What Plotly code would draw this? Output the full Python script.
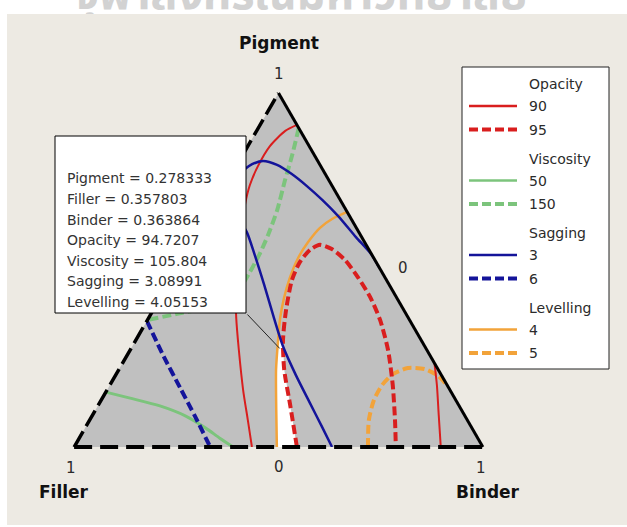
import math
import plotly.graph_objects as go

W, H = 627, 527

# ---- mixture contour data: pigment and binder fractions (filler = 1 - pigment - binder)
OPACITY_90_LEFT_PIGMENT = [0.910, 0.893, 0.850, 0.794, 0.740, 0.684, 0.599, 0.514, 0.429, 0.367, 0.274, 0.161, 0.076, 0.0]
OPACITY_90_LEFT_BINDER = [0.090, 0.070, 0.054, 0.053, 0.060, 0.076, 0.109, 0.144, 0.181, 0.213, 0.266, 0.333, 0.387, 0.435]
OPACITY_90_RIGHT_PIGMENT = [0.237, 0.175, 0.090, 0.0]
OPACITY_90_RIGHT_BINDER = [0.763, 0.800, 0.847, 0.897]
OPACITY_95_PIGMENT = [0.0, 0.119, 0.218, 0.302, 0.387, 0.472, 0.523, 0.557, 0.571, 0.559, 0.528, 0.480, 0.424, 0.359, 0.274, 0.175, 0.076, 0.0]
OPACITY_95_BINDER = [0.545, 0.469, 0.405, 0.360, 0.325, 0.297, 0.291, 0.299, 0.316, 0.351, 0.399, 0.454, 0.512, 0.569, 0.631, 0.692, 0.747, 0.787]

VISCOSITY_50_PIGMENT = [0.155, 0.138, 0.116, 0.088, 0.054, 0.025, 0.0]
VISCOSITY_50_BINDER = [0.0, 0.068, 0.152, 0.228, 0.294, 0.344, 0.389]
VISCOSITY_150_PIGMENT = [0.901, 0.825, 0.754, 0.670, 0.599, 0.548, 0.494, 0.449, 0.415, 0.390, 0.376, 0.359]
VISCOSITY_150_BINDER = [0.099, 0.121, 0.139, 0.162, 0.175, 0.181, 0.183, 0.181, 0.162, 0.113, 0.064, 0.0]

SAGGING_3_PIGMENT = [0.506, 0.545, 0.593, 0.653, 0.698, 0.737, 0.771, 0.797, 0.808, 0.799, 0.783, 0.754,
                     0.712, 0.664, 0.636, 0.607, 0.542, 0.458, 0.364, 0.283, 0.203, 0.124, 0.057, 0.0]
SAGGING_3_BINDER = [0.494, 0.454, 0.393, 0.319, 0.258, 0.201, 0.147, 0.098, 0.058, 0.036, 0.024, 0.014,
                    0.023, 0.054, 0.088, 0.119, 0.171, 0.236, 0.307, 0.370, 0.441, 0.515, 0.578, 0.631]
SAGGING_6_PIGMENT = [0.356, 0.254, 0.167, 0.085, 0.0]
SAGGING_6_BINDER = [0.0, 0.093, 0.176, 0.254, 0.333]

LEVELLING_4_PIGMENT = [0.664, 0.644, 0.619, 0.579, 0.534, 0.477, 0.421, 0.364, 0.302, 0.218, 0.105, 0.0]
LEVELLING_4_BINDER = [0.336, 0.309, 0.292, 0.283, 0.281, 0.289, 0.303, 0.322, 0.348, 0.385, 0.442, 0.496]
LEVELLING_5_PIGMENT = [0.0, 0.076, 0.133, 0.175, 0.206, 0.223, 0.220, 0.201, 0.170]
LEVELLING_5_BINDER = [0.719, 0.683, 0.667, 0.666, 0.677, 0.705, 0.748, 0.790, 0.830]

# region meeting every specification
FEASIBLE_PIGMENT = [0.322, 0.302, 0.218, 0.105, 0.0, 0.0, 0.119, 0.218, 0.283]
FEASIBLE_BINDER = [0.338, 0.348, 0.385, 0.442, 0.496, 0.545, 0.469, 0.405, 0.370]

# crosshair read-out
PROBE_LABELS = ["Pigment", "Filler", "Binder", "Opacity", "Viscosity", "Sagging", "Levelling"]
PROBE_VALUES = ["0.278333", "0.357803", "0.363864", "94.7207", "105.804", "3.08991", "4.05153"]

# legend content
RESPONSES = ["Opacity", "Viscosity", "Sagging", "Levelling"]
RESPONSE_LEVELS = [["90", "95"], ["50", "150"], ["3", "6"], ["4", "5"]]
RESPONSE_COLORS = ["#D91E1E", "#7CC47C", "#14149A", "#F2A33A"]

COMPONENTS = ["Pigment", "Filler", "Binder"]
VERTEX_TICK = "1"
EDGE_TICK = "0"
WATERMARK = "จุฬาลงกรณ์มหาวิทยาลัย"

FONT = "DejaVu Sans"
BG = "#EDEAE3"
DASH = "9px,4px"

# ---- ternary subplot placement and the triangle plotly draws inside it
TERN_X = (74 / W, 483 / W)
TERN_Y = (1 - 447 / H, 1 - 93 / H)
dw = (TERN_X[1] - TERN_X[0]) * W
dh = (TERN_Y[1] - TERN_Y[0]) * H
side = min(dw, dh * 2 / math.sqrt(3))
tri_h = side * math.sqrt(3) / 2
cx = (TERN_X[0] + TERN_X[1]) / 2 * W
cy = (1 - (TERN_Y[0] + TERN_Y[1]) / 2) * H
x_left, x_right = cx - side / 2, cx + side / 2
y_top, y_bottom = cy - tri_h / 2, cy + tri_h / 2

STRIP_H = 14  # white page strip above the chart window


def px(x):
    return x / W


def py(y):
    return 1 - y / H


def mix_to_pixel(pig, bind):
    return x_left + side * (bind + pig / 2), y_bottom - tri_h * pig


def filler_of(pig, bind):
    return [max(0.0, round(1 - p - b, 4)) for p, b in zip(pig, bind)]


def contour(pig, bind, color, width, dash="solid"):
    return go.Scatterternary(
        a=pig, b=filler_of(pig, bind), c=bind, mode="lines",
        line=dict(color=color, width=width, dash=dash, shape="spline", smoothing=0.7),
        hoverinfo="skip", showlegend=False,
    )


fig = go.Figure()

fig.add_trace(go.Scatterternary(
    a=FEASIBLE_PIGMENT, b=filler_of(FEASIBLE_PIGMENT, FEASIBLE_BINDER), c=FEASIBLE_BINDER,
    mode="lines", fill="toself", fillcolor="white", line=dict(width=0, color="white"),
    hoverinfo="skip", showlegend=False,
))

red, green, blue, orange = RESPONSE_COLORS
fig.add_trace(contour(VISCOSITY_50_PIGMENT, VISCOSITY_50_BINDER, green, 3))
fig.add_trace(contour(VISCOSITY_150_PIGMENT, VISCOSITY_150_BINDER, green, 4, DASH))
fig.add_trace(contour(LEVELLING_4_PIGMENT, LEVELLING_4_BINDER, orange, 2.5))
fig.add_trace(contour(LEVELLING_5_PIGMENT, LEVELLING_5_BINDER, orange, 4, DASH))
fig.add_trace(contour(OPACITY_90_LEFT_PIGMENT, OPACITY_90_LEFT_BINDER, red, 2))
fig.add_trace(contour(OPACITY_90_RIGHT_PIGMENT, OPACITY_90_RIGHT_BINDER, red, 2))
fig.add_trace(contour(OPACITY_95_PIGMENT, OPACITY_95_BINDER, red, 4, DASH))
fig.add_trace(contour(SAGGING_3_PIGMENT, SAGGING_3_BINDER, blue, 2.5))
fig.add_trace(contour(SAGGING_6_PIGMENT, SAGGING_6_BINDER, blue, 4, DASH))

# page watermark, clipped by the thin strip it sits in
fig.add_trace(go.Scatter(
    x=[301 / W], y=[1.15], mode="text", text=[WATERMARK], textposition="middle center",
    textfont=dict(family="Noto Sans Thai, Noto Sans, DejaVu Sans, sans-serif", size=45,
                  color="#D2D2D2", weight="bold"),
    cliponaxis=True, hoverinfo="skip", showlegend=False,
))

hidden_axis = dict(showticklabels=False, ticks="", showgrid=False, showline=False, title=dict(text=""))

shapes = [
    # window background
    dict(type="rect", xref="paper", yref="paper", x0=px(7), x1=1.0, y0=py(525), y1=py(STRIP_H),
         fillcolor=BG, line=dict(width=0), layer="below"),
    # triangle edges
    dict(type="line", xref="paper", yref="paper", x0=px(x_left), y0=py(y_bottom), x1=px(x_right), y1=py(y_bottom),
         line=dict(color="black", width=4, dash="18px,8px"), layer="above"),
    dict(type="line", xref="paper", yref="paper", x0=px(x_left), y0=py(y_bottom), x1=px(cx), y1=py(y_top),
         line=dict(color="black", width=3.5, dash="18px,6px"), layer="above"),
    dict(type="line", xref="paper", yref="paper", x0=px(cx), y0=py(y_top), x1=px(x_right), y1=py(y_bottom),
         line=dict(color="black", width=3), layer="above"),
    # crosshair read-out box
    dict(type="rect", xref="paper", yref="paper", x0=px(55), x1=px(246), y0=py(313), y1=py(136),
         fillcolor="white", line=dict(color="black", width=1), layer="above"),
    # legend box
    dict(type="rect", xref="paper", yref="paper", x0=px(462), x1=px(609), y0=py(369), y1=py(67),
         fillcolor="white", line=dict(color="#222222", width=1), layer="above"),
]

annotations = []


def text(x, y, s, size=14, bold=False, xanchor="center", color="#2b2b2b"):
    annotations.append(dict(
        x=px(x), y=py(y), xref="paper", yref="paper", text=f"<b>{s}</b>" if bold else s,
        showarrow=False, xanchor=xanchor, yanchor="middle",
        font=dict(family=FONT, size=size, color=color),
    ))


# vertex names and tick values
text(cx, 43, COMPONENTS[0], size=17, bold=True, color="#111111")
text(cx, 74, VERTEX_TICK, size=15)
text(64, 492, COMPONENTS[1], size=17, bold=True, color="#111111")
text(x_left - 3, 468, VERTEX_TICK, size=15)
text(488, 492, COMPONENTS[2], size=17, bold=True, color="#111111")
text(x_right - 2, 468, VERTEX_TICK, size=15)
text(cx, 467, EDGE_TICK, size=15)
text(403, 268, EDGE_TICK, size=15)

# leader from the read-out box to the probed mixture
probe_x, probe_y = mix_to_pixel(float(PROBE_VALUES[0]), float(PROBE_VALUES[2]))
annotations.append(dict(
    x=px(probe_x), y=py(probe_y), xref="paper", yref="paper", text="",
    showarrow=True, arrowhead=0, arrowwidth=1, arrowcolor="#222222", standoff=0,
    ax=246 - probe_x, ay=313 - probe_y, axref="pixel", ayref="pixel",
))

# read-out lines
for i, (lab, val) in enumerate(zip(PROBE_LABELS, PROBE_VALUES)):
    text(65, 178.3 + i * 20.6, f"{lab} = {val}", xanchor="left", color="#333333")

# legend rows
row_y = 84
for resp, levels, color in zip(RESPONSES, RESPONSE_LEVELS, RESPONSE_COLORS):
    text(527, row_y, resp, xanchor="left", color="#2b2b2b")
    row_y += 22
    for j, lev in enumerate(levels):
        dashed = j == 1
        shapes.append(dict(
            type="line", xref="paper", yref="paper", x0=px(469), x1=px(517), y0=py(row_y), y1=py(row_y),
            line=dict(color=color, width=4 if dashed else 2.5, dash=DASH if dashed else "solid"), layer="above",
        ))
        text(527, row_y, lev, xanchor="left", color="#2b2b2b")
        row_y += 23.5
    row_y += 5.5

fig.update_layout(
    width=W, height=H,
    margin=dict(l=0, r=0, t=0, b=0, pad=0),
    paper_bgcolor="white",
    plot_bgcolor="white",
    showlegend=False,
    xaxis=dict(domain=[0, 1], range=[0, 1], visible=False, fixedrange=True),
    yaxis=dict(domain=[py(STRIP_H), 1], range=[0, 1], visible=False, fixedrange=True),
    ternary=dict(
        domain=dict(x=list(TERN_X), y=list(TERN_Y)),
        bgcolor="#C0C0C0", sum=1,
        aaxis=hidden_axis, baxis=hidden_axis, caxis=hidden_axis,
    ),
    shapes=shapes,
    annotations=annotations,
)

fig.write_html("out.html", config={"displayModeBar": False})
